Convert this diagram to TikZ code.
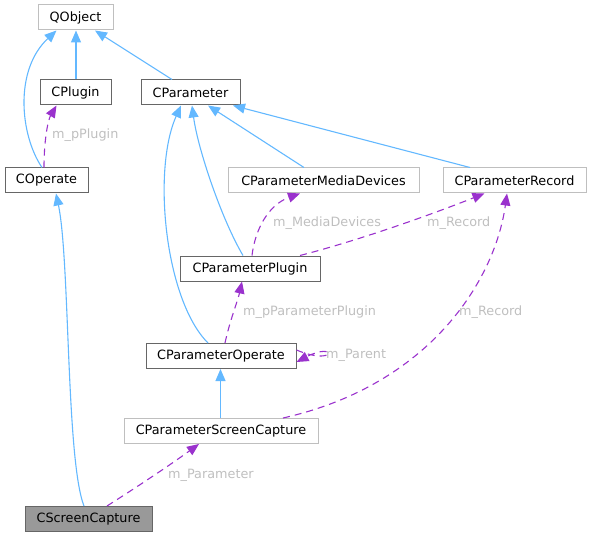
\documentclass[tikz,border=0pt]{standalone}
\usepackage{fontspec}
\setmainfont{DejaVu Sans}
\usetikzlibrary{arrows.meta}
\definecolor{edgeblue}{HTML}{63B8FF}
\definecolor{edgepurple}{HTML}{9A32CD}
\definecolor{boxgray}{HTML}{BFBFBF}
\definecolor{boxdark}{HTML}{666666}
\definecolor{lblgray}{HTML}{BFBFBF}
\begin{document}
\begin{tikzpicture}[x=1pt,y=-1pt,
		cls/.style={draw=boxdark, line width=1pt, inner sep=0pt, minimum height=25pt, font=\fontsize{12.8}{15}\selectfont},
		extcls/.style={cls, draw=boxgray},
		inh/.style={draw=edgeblue, line width=1.1pt, -{Triangle[length=12pt,width=10pt]}},
		uses/.style={draw=edgepurple, line width=1.1pt, dash pattern=on 7pt off 5pt, -{Triangle[length=12pt,width=10pt]}},
		lbl/.style={text=lblgray, anchor=west, inner sep=0pt, font=\fontsize{12.8}{15}\selectfont}]
		\useasboundingbox (0,0) rectangle (591,537);
		
		\node[extcls, minimum width=75pt] (qobject) at (75.5,17.5) {QObject};
		\node[cls, minimum width=71pt] (cplugin) at (75.5,92.5) {CPlugin};
		\node[cls, minimum width=99pt] (cparameter) at (190.5,92.5) {CParameter};
		\node[cls, minimum width=83pt] (coperate) at (46.5,180.5) {COperate};
		\node[extcls, minimum width=191pt] (cmedia) at (323.5,180.5) {CParameterMediaDevices};
		\node[extcls, minimum width=143pt] (crecord) at (514.5,180.5) {CParameterRecord};
		\node[cls, minimum width=140pt] (cpplugin) at (250,268.5) {CParameterPlugin};
		\node[cls, minimum width=150pt] (cpoperate) at (221,356) {CParameterOperate};
		\node[extcls, minimum width=194pt] (cpscreen) at (221,431) {CParameterScreenCapture};
		\node[cls, minimum width=127pt, fill=black!40] (cscreen) at (88.5,519) {CScreenCapture};
		
		\draw[inh] ([xshift=-4.5pt]coperate.north) .. controls (20,135) and (14,70) .. ([xshift=-19pt]qobject.south);
		\draw[inh] ([xshift=0.5pt]cplugin.north) -- ([xshift=0.5pt]qobject.south);
		\draw[inh] ([xshift=-18.5pt]cparameter.north) -- ([xshift=19.5pt]qobject.south);
		\draw[inh] ([xshift=-19.5pt]cmedia.north) -- ([xshift=17.5pt]cparameter.south);
		\draw[inh] ([xshift=-44.5pt]crecord.north) -- ([xshift=42.5pt]cparameter.south);
		\draw[inh] ([xshift=-7pt]cpplugin.north) .. controls (222,220) and (198,150) .. ([xshift=1.5pt]cparameter.south);
		\draw[inh] ([xshift=-13pt]cpoperate.north) .. controls (165,300) and (152,170) .. ([xshift=-9.5pt]cparameter.south);
		\draw[inh] ([xshift=-0.5pt]cpscreen.north) -- ([xshift=-0.5pt]cpoperate.south);
		\draw[inh] ([xshift=-4.5pt]cscreen.north) .. controls (66,460) and (70,260) .. ([xshift=9.5pt]coperate.south);
		
		\draw[uses] ([xshift=-2.5pt]coperate.north) .. controls (44,140) and (48,120) .. ([xshift=-19pt]cplugin.south);
		\node[lbl] (lplugin) at (52,135) {m\_pPlugin};
		\draw[uses] ([xshift=2pt]cpplugin.north) .. controls (255,230) and (268,205) .. ([xshift=-23.5pt]cmedia.south);
		\node[lbl] (lmedia) at (273,223) {m\_MediaDevices};
		\draw[uses] ([xshift=50pt]cpplugin.north) .. controls (360,240) and (430,215) .. ([xshift=-30pt]crecord.south);
		\node[lbl] (lrecorda) at (427,223) {m\_Record};
		\draw[uses] ([xshift=4pt]cpoperate.north) .. controls (230,320) and (238,300) .. ([xshift=-8pt]cpplugin.south);
		\node[lbl] (lpplugin) at (243,312) {m\_pParameterPlugin};
		\draw[uses] ([yshift=6pt]cpoperate.east) .. controls (337,367) and (337,341) .. ([yshift=-6pt]cpoperate.east);
		\node[lbl] (lparent) at (326,355) {m\_Parent};
		\draw[uses] ([xshift=62pt]cpscreen.north) .. controls (430,385) and (495,280) .. ([xshift=-7.5pt]crecord.south);
		\node[lbl] (lrecordb) at (459,312) {m\_Record};
		\draw[uses] ([xshift=18.5pt]cscreen.north) .. controls (140,485) and (170,465) .. ([xshift=-22pt]cpscreen.south);
		\node[lbl] (lparam) at (168,475) {m\_Parameter};
	\end{tikzpicture}
\end{document}
